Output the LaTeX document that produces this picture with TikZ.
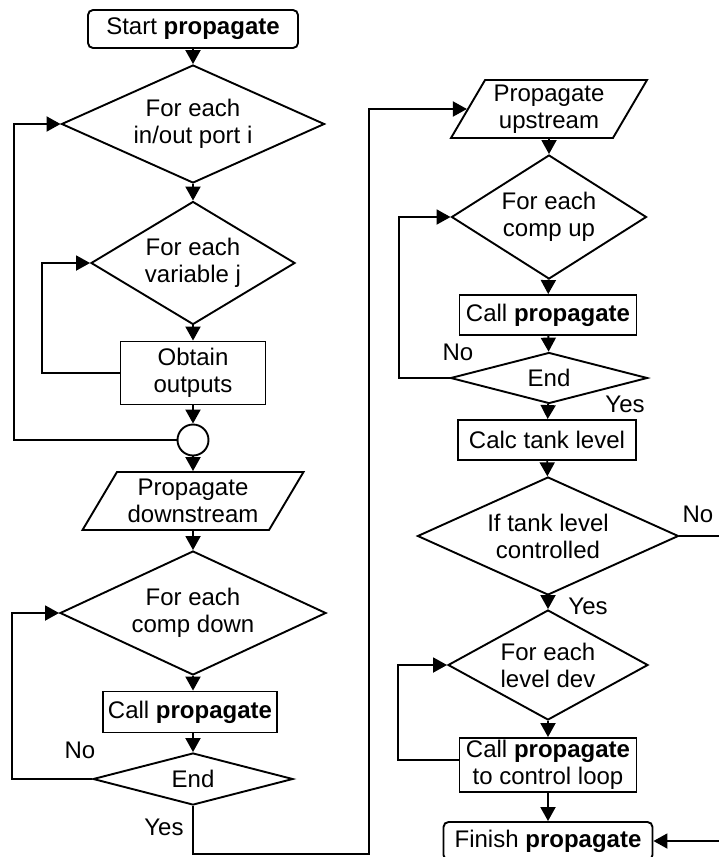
\documentclass[tikz,border=0pt]{standalone}
\usepackage{fontspec}
\setmainfont{Liberation Sans}
\usepackage{tikz}
\usetikzlibrary{shapes.geometric, arrows.meta}

\begin{document}
\begin{tikzpicture}[x=1pt, y=-1pt, line width=1.9pt,
        every node/.style={font=\fontsize{24}{27}\selectfont, align=center, inner sep=1pt},
        terminal/.style={draw, rounded corners=5pt},
        process/.style={draw},
        decision/.style={draw, diamond},
        io/.style={draw, trapezium, trapezium left angle=53, trapezium right angle=127, trapezium stretches body},
        joint/.style={draw, circle, minimum size=31pt, inner sep=0pt},
        flow/.style={-{Triangle[length=14pt,width=15pt]}}]
            \useasboundingbox (0,0) rectangle (718,857);

            \node (s_start) at (193,29) [terminal, minimum width=210pt, minimum height=38pt] {Start \textbf{propagate}};
            \node (d_port) at (193,124) [decision, shape aspect=2.23, minimum width=263pt, minimum height=118pt] {For each\\in/out port i};
            \node (d_var) at (193,263) [decision, shape aspect=1.66, minimum width=204pt, minimum height=123pt] {For each\\variable j};
            \node (b_obtain) at (193,373) [process, minimum width=145pt, minimum height=63pt] {Obtain\\outputs};
            \node (j_join) at (193,440) [joint] {};
            \node (io_down) at (193,501) [io, minimum width=221pt, minimum height=58pt] {Propagate\\downstream};
            \node (d_cdown) at (193,613) [decision, shape aspect=2.15, minimum width=266pt, minimum height=124pt] {For each\\comp down};
            \node (b_calld) at (190,712) [process, minimum width=174pt, minimum height=41pt] {Call \textbf{propagate}};
            \node (d_endd) at (193,779) [decision, shape aspect=3.85, minimum width=200pt, minimum height=52pt] {End};

            \node (io_up) at (549,109) [io, trapezium left angle=56, trapezium right angle=124, minimum width=196pt, minimum height=58pt] {Propagate\\upstream};
            \node (d_cup) at (549,217) [decision, shape aspect=1.57, minimum width=195pt, minimum height=124pt] {For each\\comp up};
            \node (b_callu) at (548,315) [process, minimum width=177pt, minimum height=40pt] {Call \textbf{propagate}};
            \node (d_endu) at (549,378) [decision, shape aspect=3.85, minimum width=197pt, minimum height=51pt] {End};
            \node (b_calc) at (547,440) [process, minimum width=178pt, minimum height=40pt] {Calc tank level};
            \node (d_ctrl) at (548,536) [decision, shape aspect=2.2, minimum width=261pt, minimum height=118pt] {If tank level\\controlled};
            \node (d_dev) at (548,665) [decision, shape aspect=1.82, minimum width=200pt, minimum height=110pt] {For each\\level dev};
            \node (b_callc) at (548,765) [process, minimum width=177pt, minimum height=54pt] {Call \textbf{propagate}\\to control loop};
            \node (s_finish) at (548,841) [terminal, minimum width=209pt, minimum height=38pt] {Finish \textbf{propagate}};

            \draw [flow] (s_start) -- (d_port);
            \draw [flow] (d_port) -- (d_var);
            \draw [flow] (d_var) -- (b_obtain);
            \draw [flow] (b_obtain) -- (j_join);
            \draw [flow] (j_join) -- (io_down);
            \draw [flow] (io_down) -- (d_cdown);
            \draw [flow] (d_cdown.south) -- (d_cdown.south |- b_calld.north);
            \draw [flow] (d_cdown.south |- b_calld.south) -- (d_endd.north);

            \draw [flow] (j_join.west) -- ++(-163,0) |- (d_port.west);
            \draw [flow] (b_obtain.west) -- ++(-78,0) |- (d_var.west);
            \draw [flow] (d_endd.west) -- ++(-80,0) |- (d_cdown.west);
            \draw [flow] (d_endd.south) -- ++(0,48) -| ([xshift=-98pt]io_up.west) -- (io_up.west);

            \draw [flow] (io_up) -- (d_cup);
            \draw [flow] (d_cup) -- (b_callu);
            \draw [flow] (b_callu) -- (d_endu);
            \draw [flow] (d_endu) -- (b_calc);
            \draw [flow] (b_calc) -- (d_ctrl);
            \draw [flow] (d_ctrl) -- (d_dev);
            \draw [flow] (d_dev) -- (b_callc);
            \draw [flow] (b_callc) -- (s_finish);

            \draw [flow] (d_endu.west) -- ++(-51,0) |- (d_cup.west);
            \draw [flow] ([yshift=5pt]b_callc.west) -- ++(-61,0) |- (d_dev.west);
            \draw [flow] (d_ctrl.east) -- ++(44,0) |- (s_finish.east);

            \node (l_no_a) at (80,750) {No};
            \node (l_yes_a) at (164,827) {Yes};
            \node (l_no_b) at (458,352) {No};
            \node (l_yes_b) at (625,404) {Yes};
            \node (l_no_c) at (698,514) {No};
            \node (l_yes_c) at (588,606) {Yes};
        \end{tikzpicture}
\end{document}
